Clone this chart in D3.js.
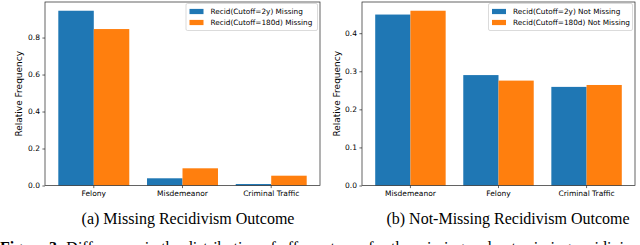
<!DOCTYPE html>
<html>
<head>
<meta charset="utf-8">
<script src="https://cdn.jsdelivr.net/npm/d3@7"></script>
<style>
  body { margin: 0; background: #fff; }
  svg { display: block; }
  .tick text { font-family: "DejaVu Sans", sans-serif; font-size: 7.5px; fill: #000; }
  .ylabel { font-family: "DejaVu Sans", sans-serif; font-size: 9px; }
  .legend text { font-family: "DejaVu Sans", sans-serif; font-size: 7.3px; }
  .caption { font-family: "Liberation Serif", "Times New Roman", serif; font-size: 16px; }
</style>
</head>
<body>
<script>
var width = 640,
    height = 245;

// data
var catsA = ["Felony", "Misdemeanor", "Criminal Traffic"];
var twoYearA = [0.945, 0.039, 0.008];
var sixMonthA = [0.846, 0.093, 0.053];
var legendA = ["Recid(Cutoff=2y) Missing", "Recid(Cutoff=180d) Missing"];
var ticksA = [0, 0.2, 0.4, 0.6, 0.8];

var catsB = ["Misdemeanor", "Felony", "Criminal Traffic"];
var twoYearB = [0.449, 0.290, 0.259];
var sixMonthB = [0.459, 0.2755, 0.264];
var legendB = ["Recid(Cutoff=2y) Not Missing", "Recid(Cutoff=180d) Not Missing"];
var ticksB = [0, 0.1, 0.2, 0.3, 0.4];

var colors = ["#1f77b4", "#ff7f0e"];

var svg = d3.select("body").append("svg")
    .attr("width", width)
    .attr("height", height);

function panel(opts) {
    var x = d3.scaleBand()
        .domain(opts.cats)
        .range([opts.left, opts.right])
        .paddingInner(0.2)
        .paddingOuter(0.15);
    var xSub = d3.scaleBand()
        .domain([0, 1])
        .range([0, x.bandwidth()]);
    var y = d3.scaleLinear()
        .domain([0, opts.ymax])
        .range([opts.bottom, opts.top]);

    var g = svg.append("g");
    var series = [opts.a, opts.b];

    series.forEach(function(vals, s) {
        g.append("g").selectAll("rect")
            .data(vals)
            .enter()
            .append("rect")
            .attr("x", function(d, i) { return x(opts.cats[i]) + xSub(s); })
            .attr("width", xSub.bandwidth())
            .attr("y", function(d) { return y(d); })
            .attr("height", function(d) { return y(0) - y(d); })
            .attr("fill", colors[s]);
    });

    // frame
    g.append("rect")
        .attr("x", opts.left)
        .attr("y", opts.top)
        .attr("width", opts.right - opts.left)
        .attr("height", opts.bottom - opts.top)
        .attr("fill", "none")
        .attr("stroke", "#222")
        .attr("stroke-width", 0.7);

    var yAxis = g.append("g")
        .attr("transform", "translate(" + opts.left + ",0)")
        .call(d3.axisLeft(y).tickValues(opts.ticks).tickFormat(d3.format(".1f")).tickSize(2.6).tickPadding(2.4));
    var xAxis = g.append("g")
        .attr("transform", "translate(0," + opts.bottom + ")")
        .call(d3.axisBottom(x).tickSize(2.6).tickPadding(2.2));
    [yAxis, xAxis].forEach(function(ax) {
        ax.select(".domain").remove();
        ax.selectAll(".tick line").attr("stroke", "#222").attr("stroke-width", 0.7);
        ax.attr("font-family", null).attr("font-size", null);
    });

    g.append("text")
        .attr("class", "ylabel")
        .attr("transform", "translate(" + opts.ylabelX + "," + (opts.top + opts.bottom) / 2 + ") rotate(-90)")
        .attr("text-anchor", "middle")
        .text("Relative Frequency");

    // legend
    var lg = g.append("g").attr("class", "legend");
    lg.append("rect")
        .attr("x", opts.legX)
        .attr("y", opts.top + 1.5)
        .attr("width", opts.right - 2.5 - opts.legX)
        .attr("height", 27)
        .attr("rx", 1.5)
        .attr("fill", "#fff")
        .attr("fill-opacity", 0.8)
        .attr("stroke", "#ccc")
        .attr("stroke-width", 0.7);
    opts.legend.forEach(function(t, i) {
        var cy = opts.top + 9.5 + i * 11;
        lg.append("rect")
            .attr("x", opts.legX + 3.5)
            .attr("y", cy - 2.6)
            .attr("width", 14)
            .attr("height", 5.2)
            .attr("fill", colors[i]);
        lg.append("text")
            .attr("x", opts.legX + 24.5)
            .attr("y", cy)
            .attr("dy", "0.35em")
            .text(t);
    });

    svg.append("text")
        .attr("class", "caption")
        .attr("x", opts.capX)
        .attr("y", 224)
        .attr("text-anchor", "middle")
        .text(opts.caption);
}

panel({
    cats: catsA, a: twoYearA, b: sixMonthA, ticks: ticksA, legend: legendA,
    ymax: 0.945 * 1.05, left: 45, right: 320, top: 2, bottom: 185.5,
    ylabelX: 22, legX: 186, capX: 188, caption: "(a) Missing Recidivism Outcome"
});

panel({
    cats: catsB, a: twoYearB, b: sixMonthB, ticks: ticksB, legend: legendB,
    ymax: 0.459 * 1.05, left: 362, right: 635, top: 2, bottom: 185.5,
    ylabelX: 339.5, legX: 488.5, capX: 508, caption: "(b) Not-Missing Recidivism Outcome"
});

// figure caption, cut off by the bottom edge as in the source page
var fig = svg.append("text")
    .attr("class", "caption")
    .attr("x", 0)
    .attr("y", 253);
fig.append("tspan").attr("font-weight", "bold").text("Figure 3: ");
fig.append("tspan").text("Differences in the distribution of offense types for the missing and not-missing recidivism outcome labels.");
</script>
</body>
</html>
